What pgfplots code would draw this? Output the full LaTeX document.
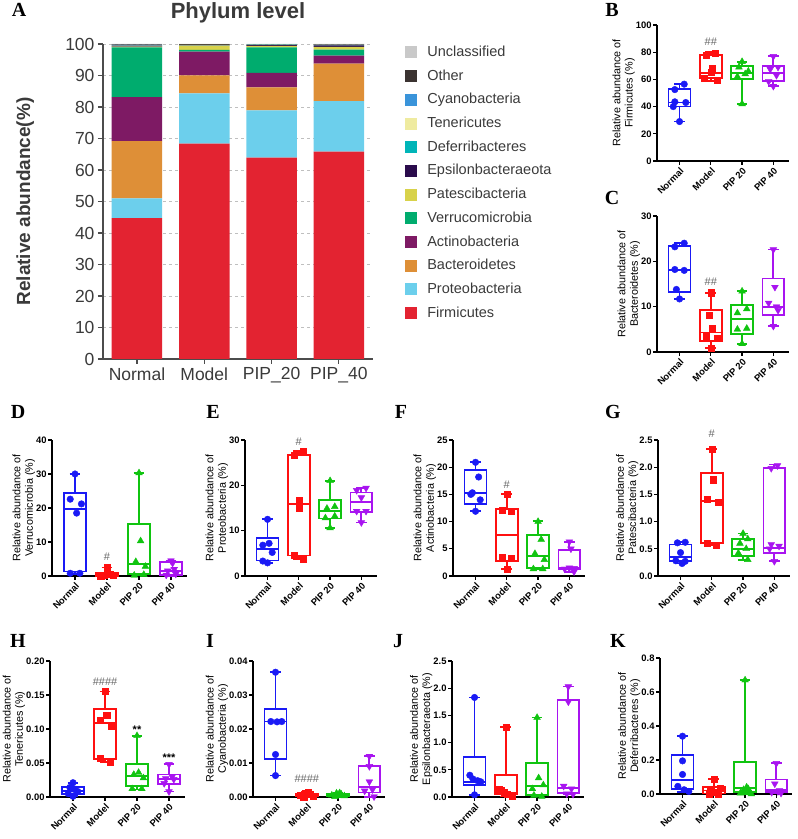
\documentclass[border=0pt]{standalone}
\usepackage{pgfplots}
\pgfplotsset{compat=1.18}
\usepgfplotslibrary{statistics}
\usepackage{fontspec}
\setmainfont{Liberation Sans}
\newfontfamily\serif{Liberation Serif}

\definecolor{cFirm}{HTML}{E32331}
\definecolor{cProt}{HTML}{6CCFEC}
\definecolor{cBact}{HTML}{DE8F37}
\definecolor{cActi}{HTML}{7E1A64}
\definecolor{cVerr}{HTML}{00AC6E}
\definecolor{cPate}{HTML}{D8D24A}
\definecolor{cEpsi}{HTML}{2B0C4C}
\definecolor{cDefe}{HTML}{00B5B8}
\definecolor{cTene}{HTML}{EFEBA0}
\definecolor{cCyan}{HTML}{3A94DA}
\definecolor{cOthe}{HTML}{3B3331}
\definecolor{cUncl}{HTML}{C9C9C9}
\definecolor{cN}{HTML}{1A1AF5}
\definecolor{cM}{HTML}{FF1010}
\definecolor{cP2}{HTML}{10C410}
\definecolor{cP4}{HTML}{A814F0}
\definecolor{txtg}{HTML}{3A3A3A}

\pgfplotsset{
  sq/.style={legend image code/.code={\fill[##1] (0pt,-6pt) rectangle (12pt,6pt);}},
  mN/.style={mark=*, mark size=3.3pt},
  mM/.style={mark=square*, mark size=3.1pt},
  mP2/.style={mark=triangle*, mark size=3.9pt},
  mP4/.style={mark=triangle*, mark size=3.9pt, mark options={rotate=180}},
  sp/.style={
    scale only axis, width=132pt, height=136pt,
    xmin=-0.72, xmax=3.5, ymin=0,
    anchor=south west, clip=false,
    boxplot/draw direction=y,
    axis x line*=bottom, axis y line*=left,
    axis line style={line width=1.4pt, black},
    every tick/.style={line width=1.3pt, black},
    tick align=outside, major tick length=3.8pt,
    xtick={0,1,2,3}, xticklabels={Normal,Model,PIP 20,PIP 40},
    xticklabel style={rotate=45, anchor=north east, font=\fontsize{9.4}{10}\selectfont\bfseries, inner sep=1.5pt},
    yticklabel style={font=\fontsize{9.4}{10}\selectfont\bfseries, /pgf/number format/assume math mode=true, inner xsep=1.5pt},
    ylabel style={align=center, font=\fontsize{10.8}{12.3}\selectfont},
    ylabel shift=-4pt,
    scaled y ticks=false,
  },
}

\newcommand{\grp}[9]{%
  \addplot[draw=#7, line width=1.8pt, boxplot prepared={draw position=#1, lower whisker=#2, lower quartile=#3, median=#4, upper quartile=#5, upper whisker=#6, box extend=0.7, whisker extend=0.34}] coordinates {};
  \addplot[only marks, color=#7, #8] coordinates {#9};
}
\newcommand{\sig}[3]{\node[font=\fontsize{11}{11}\selectfont, text=black!60] at (axis cs:#1,#2) {#3};}

\begin{document}
\begin{tikzpicture}
\path[use as bounding box] (0pt,0pt) rectangle (798pt,839pt);

% Panel letters
\foreach \L/\X/\Y in {A/19/829, B/612/829, C/612/641, D/18/427, E/213/427, F/401/427, G/613/427, H/18/198, I/210/198, J/398/198, K/618/198}
  \node[font=\serif\bfseries\fontsize{20}{20}\selectfont] at (\X pt,\Y pt) {\L};

\node[font=\bfseries\fontsize{22}{22}\selectfont, text=txtg] at (238pt,826pt) {Phylum level};

% ---------- Panel A ----------
\begin{axis}[
  at={(103pt,480pt)}, anchor=south west, scale only axis,
  width=269.5pt, height=315pt,
  ybar stacked, bar width=0.75,
  xmin=-0.505, xmax=3.5, ymin=0, ymax=100,
  ytick={0,10,...,100}, xtick={0,1,2,3},
  xticklabels={Normal,Model,PIP\_20,PIP\_40},
  axis x line*=bottom, axis y line*=left,
  axis line style={line width=1.3pt, black!70},
  every tick/.style={line width=1.2pt, black!70},
  tick align=outside, major tick length=5pt,
  ymajorgrids, grid style={dashed, black!25},
  ticklabel style={font=\fontsize{17.5}{17.5}\selectfont, text=txtg, /pgf/number format/assume math mode=true},
  ylabel={Relative abundance(\%)},
  ylabel style={at={(axis description cs:-0.289,0.5)}, anchor=center, font=\bfseries\fontsize{19}{19}\selectfont, text=txtg},
  reverse legend,
  legend style={at={(axis description cs:1.108,1.007)}, anchor=north west, draw=none, fill=none,
    font=\fontsize{14.5}{15}\selectfont, text=txtg, row sep=6.7pt,
    nodes={inner sep=1.5pt, text height=11pt, text depth=3pt},
    /tikz/every odd column/.append style={column sep=9pt}},
  legend cell align=left,
]
\addplot[fill=cFirm, draw=none, sq] coordinates {(0,44.7) (1,68.4) (2,63.9) (3,65.8)};
\addlegendentry{Firmicutes}
\addplot[fill=cProt, draw=none, sq] coordinates {(0,6.3) (1,15.9) (2,15.0) (3,16.1)};
\addlegendentry{Proteobacteria}
\addplot[fill=cBact, draw=none, sq] coordinates {(0,18.2) (1,5.7) (2,7.3) (3,11.9)};
\addlegendentry{Bacteroidetes}
\addplot[fill=cActi, draw=none, sq] coordinates {(0,13.9) (1,7.6) (2,4.6) (3,2.5)};
\addlegendentry{Actinobacteria}
\addplot[fill=cVerr, draw=none, sq] coordinates {(0,15.8) (1,0.5) (2,8.1) (3,1.9)};
\addlegendentry{Verrucomicrobia}
\addplot[fill=cPate, draw=none, sq] coordinates {(0,0.3) (1,1.4) (2,0.5) (3,0.9)};
\addlegendentry{Patescibacteria}
\addplot[fill=cEpsi, draw=none, sq] coordinates {(0,0.3) (1,0.1) (2,0.3) (3,0.5)};
\addlegendentry{Epsilonbacteraeota}
\addplot[fill=cDefe, draw=none, sq] coordinates {(0,0.1) (1,0.03) (2,0.1) (3,0.06)};
\addlegendentry{Deferribacteres}
\addplot[fill=cTene, draw=none, sq] coordinates {(0,0.05) (1,0.1) (2,0.04) (3,0.03)};
\addlegendentry{Tenericutes}
\addplot[fill=cCyan, draw=none, sq] coordinates {(0,0.05) (1,0.0) (2,0.0) (3,0.01)};
\addlegendentry{Cyanobacteria}
\addplot[fill=cOthe, draw=none, sq] coordinates {(0,0.2) (1,0.2) (2,0.1) (3,0.2)};
\addlegendentry{Other}
\addplot[fill=cUncl, draw=none, sq] coordinates {(0,0.1) (1,0.07) (2,0.06) (3,0.1)};
\addlegendentry{Unclassified}
\end{axis}

% ---------- B Firmicutes ----------
\begin{axis}[sp, at={(657pt,678pt)}, ymax=100, ytick={0,20,40,60,80,100},
  ylabel={Relative abundance of\\Firmicutes (\%)}]
\grp{0}{29}{40}{43}{53}{56.5}{cN}{mN}{(0,29) (-0.2,40) (0.2,43) (-0.15,43.5) (-0.15,52.5) (0.15,56.5)}
\grp{1}{59}{61}{64.5}{78}{80}{cM}{mM}{(0.8,61) (1.2,59.5) (1.0,65) (1.05,68) (0.85,77.5) (1.15,79.5)}
\grp{2}{42}{60}{64.5}{70}{73}{cP2}{mP2}{(2,42) (1.85,62) (2.1,64) (2.2,66) (1.9,69) (2,73)}
\grp{3}{55}{59}{64.8}{70}{77}{cP4}{mP4}{(3,55) (2.85,58.5) (3.1,63) (2.9,67.5) (3.15,69) (3,77)}
\sig{1}{88}{\#\#}
\end{axis}

% ---------- C Bacteroidetes ----------
\begin{axis}[sp, at={(657pt,487pt)}, ymax=30, ytick={0,10,20,30},
  ylabel={Relative abundance of\\Bacteroidetes (\%)}]
\grp{0}{11.7}{13.3}{18.1}{23.3}{24.1}{cN}{mN}{(0,11.7) (-0.1,13.8) (-0.15,18.2) (0.15,18.0) (-0.15,23.2) (0.15,24.0)}
\grp{1}{0.8}{2.5}{4.3}{9.2}{13.1}{cM}{mM}{(1,0.8) (0.85,3.6) (1.05,5.2) (1.2,3.0) (0.95,8.2) (1,13.1)}
\grp{2}{1.8}{4.0}{7.2}{10.3}{13.4}{cP2}{mP2}{(2,1.8) (1.85,5.0) (2.15,5.2) (1.85,8.6) (2.15,9.5) (2,13.4)}
\grp{3}{5.7}{8.2}{10.0}{16.2}{22.6}{cP4}{mP4}{(3,5.7) (3.15,9.2) (2.85,10.8) (3.1,10.0) (3.05,14.3) (3,22.6)}
\sig{1}{15.5}{\#\#}
\end{axis}

% ---------- D Verrucomicrobia ----------
\begin{axis}[sp, width=135pt, at={(52pt,263pt)}, ymax=40, ytick={0,10,20,30,40},
  ylabel={Relative abundance of\\Verrucomicrobia (\%)}]
\grp{0}{0.5}{1.3}{19.8}{24.3}{30}{cN}{mN}{(-0.15,0.8) (0.15,0.8) (0.05,18.5) (0.2,21.2) (-0.15,22.6) (0,30)}
\grp{1}{0}{0.1}{0.4}{0.9}{2.5}{cM}{mM}{(0.8,0.1) (0.9,0.3) (1.1,0.5) (1.2,0.2) (1.0,0.9) (1,2.5)}
\grp{2}{0.2}{0.6}{3.6}{15.2}{30.3}{cP2}{mP2}{(1.85,0.2) (2.15,0.4) (2.2,2.8) (1.9,4.2) (2.05,10.3) (2,30.3)}
\grp{3}{0.1}{0.3}{1.5}{4.0}{4.5}{cP4}{mP4}{(2.85,0.3) (3.15,0.6) (2.9,1.5) (3.1,2.0) (3.05,3.8) (3,4.5)}
\sig{1}{5.6}{\#}
\end{axis}

% ---------- E Proteobacteria ----------
\begin{axis}[sp, at={(245pt,263pt)}, ymax=30, ytick={0,10,20,30},
  ylabel={Relative abundance of\\Proteobacteria (\%)}]
\grp{0}{2.9}{3.4}{6.0}{8.3}{12.5}{cN}{mN}{(0,2.9) (-0.15,3.3) (0.15,5.2) (-0.15,6.8) (0.05,7.2) (0,12.5)}
\grp{1}{3.7}{4.5}{15.9}{26.7}{27.5}{cM}{mM}{(1.15,3.7) (0.85,4.5) (1,15) (1,16.8) (0.85,26.6) (1.15,27.4)}
\grp{2}{10.6}{12.7}{14.3}{16.8}{21.0}{cP2}{mP2}{(2,10.6) (1.85,12.8) (2.15,13.2) (1.9,14.9) (2.15,15.3) (2,21)}
\grp{3}{11.8}{14.2}{16.3}{18.4}{19.4}{cP4}{mP4}{(3,11.8) (2.85,14.3) (3.15,14.3) (3,17.3) (2.85,18.9) (3.15,19.4)}
\sig{1}{29.7}{\#}
\end{axis}

% ---------- F Actinobacteria ----------
\begin{axis}[sp, at={(453pt,263pt)}, ymax=25, ytick={0,5,10,15,20,25},
  ylabel={Relative abundance of\\Actinobacteria (\%)}]
\grp{0}{11.9}{13.2}{15.2}{19.5}{20.9}{cN}{mN}{(0,11.9) (0.15,14.0) (-0.15,15.0) (0.1,18.2) (0,20.9) (-0.1,15.3)}
\grp{1}{1.3}{2.8}{7.5}{12.3}{15.0}{cM}{mM}{(1,1.3) (0.85,3.5) (1.15,3.3) (0.85,12.1) (1.15,11.9) (1,15)}
\grp{2}{1.2}{1.5}{3.7}{7.6}{10.1}{cP2}{mP2}{(1.85,1.3) (2.15,1.3) (2.2,3.0) (1.9,4.1) (2.1,6.7) (2,10.0)}
\grp{3}{0.8}{1.3}{1.5}{4.8}{6.3}{cP4}{mP4}{(3.15,0.8) (2.85,1.3) (3.0,1.5) (3.15,1.4) (3.05,5.0) (3,6.3)}
\sig{1}{16.8}{\#}
\end{axis}

% ---------- G Patescibacteria ----------
\begin{axis}[sp, at={(658pt,263pt)}, ymax=2.5, ytick={0,0.5,1,1.5,2,2.5},
  yticklabel style={/pgf/number format/.cd, fixed, fixed zerofill, precision=1},
  ylabel={Relative abundance of\\Patescibacteria (\%)}]
\grp{0}{0.23}{0.27}{0.35}{0.58}{0.62}{cN}{mN}{(0.05,0.23) (-0.15,0.28) (0.15,0.27) (0.0,0.43) (-0.1,0.61) (0.15,0.62)}
\grp{1}{0.57}{0.61}{1.38}{1.9}{2.33}{cM}{mM}{(1.15,0.57) (0.85,0.61) (0.85,1.41) (1.2,1.35) (1.05,1.77) (1,2.33)}
\grp{2}{0.3}{0.37}{0.5}{0.68}{0.78}{cP2}{mP2}{(2.15,0.3) (1.85,0.42) (2.1,0.5) (1.9,0.6) (2.15,0.68) (2,0.78)}
\grp{3}{0.27}{0.43}{0.52}{1.98}{2.05}{cP4}{mP4}{(3,0.27) (2.85,0.5) (3.15,0.55) (2.9,0.58) (2.9,1.98) (3.1,2.03)}
\sig{1}{2.62}{\#}
\end{axis}

% ---------- H Tenericutes ----------
\begin{axis}[sp, width=135pt, at={(50pt,42pt)}, ymax=0.2, ytick={0,0.05,0.1,0.15,0.2},
  yticklabel style={/pgf/number format/.cd, fixed, fixed zerofill, precision=2},
  ylabel={Relative abundance of\\Tenericutes (\%)}]
\grp{0}{0.001}{0.004}{0.009}{0.015}{0.021}{cN}{mN}{(0,0.001) (-0.15,0.005) (0.15,0.008) (0.05,0.011) (-0.1,0.014) (0,0.021)}
\grp{1}{0.051}{0.056}{0.109}{0.129}{0.155}{cM}{mM}{(1.15,0.051) (0.85,0.057) (1.2,0.104) (0.85,0.113) (1.05,0.12) (1,0.155)}
\grp{2}{0.011}{0.016}{0.031}{0.049}{0.09}{cP2}{mP2}{(1.85,0.012) (2.15,0.012) (1.9,0.033) (2.05,0.036) (2.2,0.028) (2,0.09)}
\grp{3}{0.008}{0.019}{0.026}{0.033}{0.048}{cP4}{mP4}{(3,0.008) (2.85,0.02) (3.15,0.026) (2.9,0.027) (3.1,0.03) (3,0.048)}
\sig{1}{0.169}{\#\#\#\#}
\node[font=\bfseries\fontsize{11}{11}\selectfont] at (axis cs:2,0.099) {**};
\node[font=\bfseries\fontsize{11}{11}\selectfont] at (axis cs:3,0.058) {***};
\end{axis}

% ---------- I Cyanobacteria ----------
\begin{axis}[sp, at={(253pt,42pt)}, ymax=0.04, ytick={0,0.01,0.02,0.03,0.04},
  yticklabel style={/pgf/number format/.cd, fixed, fixed zerofill, precision=2},
  ylabel={Relative abundance of\\Cyanobacteria (\%)}]
\grp{0}{0.0063}{0.0112}{0.0222}{0.0258}{0.0367}{cN}{mN}{(0,0.0063) (0,0.0125) (-0.15,0.0222) (0.05,0.0221) (0.2,0.0222) (0,0.0367)}
\grp{1}{0.0001}{0.0003}{0.0006}{0.001}{0.0015}{cM}{mM}{(0.8,0.0005) (0.95,0.0012) (1.1,0.0008) (1.2,0.0003) (1.05,0.0015) (0.9,0.0001)}
\grp{2}{0.0001}{0.0003}{0.0006}{0.0009}{0.0012}{cP2}{mP2}{(1.8,0.0005) (1.95,0.0011) (2.1,0.0008) (2.2,0.0003) (2.05,0.0012) (1.9,0.0001)}
\grp{3}{0.0001}{0.0013}{0.003}{0.0092}{0.012}{cP4}{mP4}{(3.15,0.0001) (2.85,0.0018) (3.1,0.0022) (3.0,0.0045) (3,0.009) (3,0.012)}
\sig{1}{0.0055}{\#\#\#\#}
\end{axis}

% ---------- J Epsilonbacteraeota ----------
\begin{axis}[sp, at={(452pt,42pt)}, ymax=2.5, ytick={0,0.5,1,1.5,2,2.5},
  yticklabel style={/pgf/number format/.cd, fixed, fixed zerofill, precision=1},
  ylabel={Relative abundance of\\Epsilonbacteraeota (\%)}]
\grp{0}{0.04}{0.22}{0.28}{0.73}{1.83}{cN}{mN}{(0,0.04) (0.2,0.28) (0.1,0.3) (-0.05,0.33) (-0.15,0.4) (0,1.83)}
\grp{1}{0.01}{0.05}{0.08}{0.4}{1.29}{cM}{mM}{(1.2,0.01) (1.05,0.05) (0.95,0.08) (0.85,0.12) (0.8,0.14) (1,1.29)}
\grp{2}{0.01}{0.04}{0.2}{0.62}{1.46}{cP2}{mP2}{(2.15,0.01) (1.9,0.03) (1.85,0.15) (2.2,0.22) (2.05,0.35) (2,1.46)}
\grp{3}{0.05}{0.08}{0.16}{1.79}{2.03}{cP4}{mP4}{(3.15,0.05) (2.95,0.06) (2.85,0.2) (3.1,0.15) (3,1.75) (3,2.03)}
\end{axis}

% ---------- K Deferribacteres ----------
\begin{axis}[sp, at={(660pt,45pt)}, ymax=0.8, ytick={0,0.2,0.4,0.6,0.8},
  yticklabel style={/pgf/number format/.cd, fixed, fixed zerofill, precision=1},
  ylabel={Relative abundance of\\Deferribacteres (\%)}]
\grp{0}{0.01}{0.03}{0.08}{0.23}{0.34}{cN}{mN}{(0.2,0.015) (0.05,0.025) (-0.15,0.045) (0,0.115) (0,0.195) (0,0.34)}
\grp{1}{0}{0.003}{0.02}{0.04}{0.088}{cM}{mM}{(0.85,0.0) (1.15,0.002) (1.0,0.01) (0.9,0.028) (1.2,0.035) (1,0.088)}
\grp{2}{0}{0.01}{0.035}{0.19}{0.67}{cP2}{mP2}{(2.2,0) (1.85,0.005) (1.95,0.025) (2.1,0.03) (2.05,0.04) (2,0.67)}
\grp{3}{0.005}{0.01}{0.025}{0.085}{0.18}{cP4}{mP4}{(3.15,0.005) (2.85,0.01) (3.05,0.015) (2.95,0.06) (3.1,0.02) (3,0.18)}
\end{axis}
\end{tikzpicture}
\end{document}
